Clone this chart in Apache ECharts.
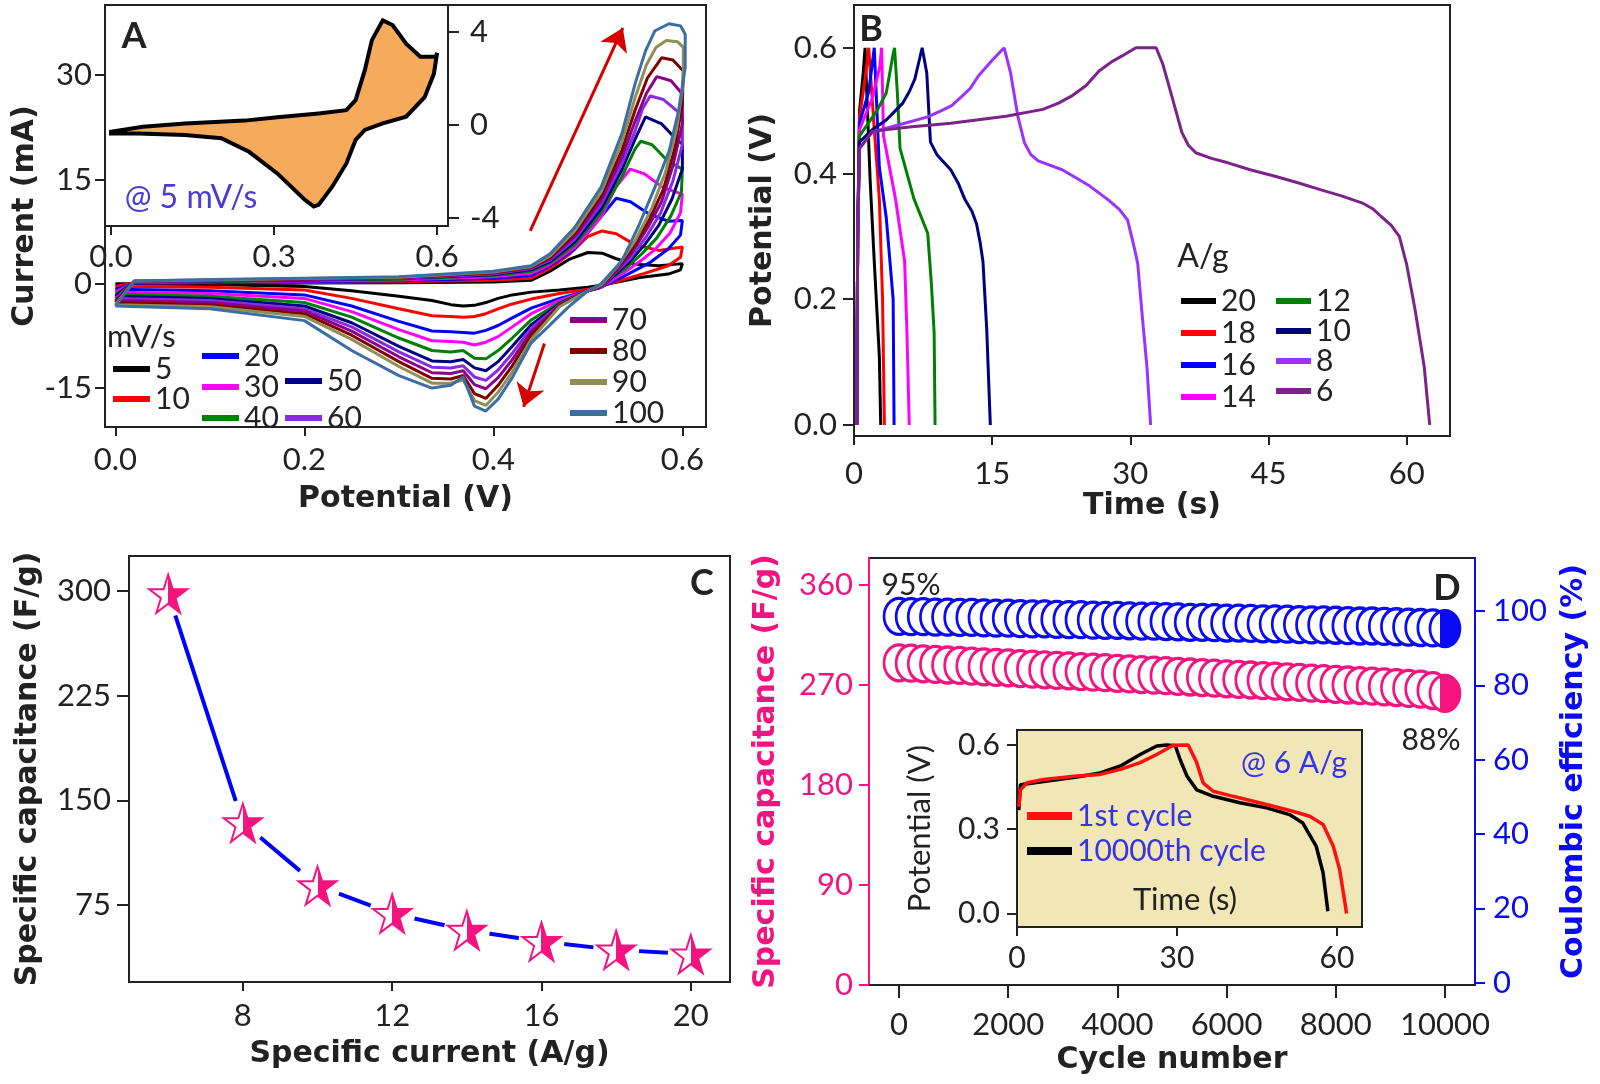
<!DOCTYPE html>
<html>
<head>
<meta charset="utf-8">
<script src="https://cdn.jsdelivr.net/npm/echarts@6/dist/echarts.min.js"></script>
<style>
  html, body { margin: 0; padding: 0; background: #fff; }
  #chart { width: 1600px; height: 1084px; }
</style>
</head>
<body>
<div id="chart"></div>
<script>
// ---------- A: cyclic voltammograms, [potential V, current mA] ----------
const scanRates = ['5', '10', '20', '30', '40', '50', '60', '70', '80', '90', '100'];
const cv5 = [[0,0],[0.02,0],[0.1,0.05],[0.2,0.1],[0.3,0.15],[0.4,0.25],[0.44,0.5],[0.46,1.8],[0.48,3.5],[0.5,4.5],[0.515,4.4],[0.53,3.6],[0.55,2.8],[0.575,2.6],[0.6,2.9],
  [0.598,2.0],[0.585,1.4],[0.555,0.9],[0.53,0.2],[0.514,-0.2],
  [0.5,-0.5],[0.47,-0.9],[0.44,-1.2],[0.42,-1.6],[0.405,-2.1],[0.392,-2.7],[0.38,-3.1],[0.368,-3.2],[0.355,-3.0],[0.335,-2.4],[0.3,-1.8],[0.25,-1.0],[0.2,-0.4],[0.1,-0.1],[0,0]];
const cv10 = [[0,-0.4],[0.02,0.1],[0.1,0.15],[0.2,0.2],[0.3,0.3],[0.4,0.5],[0.44,0.8],[0.46,2.2],[0.48,4.2],[0.5,6.8],[0.515,7.6],[0.53,7.2],[0.55,5.6],[0.575,4.8],[0.6,5.3],
  [0.598,3.8],[0.585,2.6],[0.56,1.5],[0.53,0.3],[0.514,-0.3],
  [0.5,-0.8],[0.47,-1.4],[0.44,-2.2],[0.42,-2.9],[0.405,-3.6],[0.392,-4.3],[0.38,-4.7],[0.368,-4.8],[0.355,-4.7],[0.335,-4.6],[0.3,-3.6],[0.25,-2.1],[0.2,-0.9],[0.1,-0.5],[0,-0.4]];
const cv20 = [[0,-0.8],[0.02,0.1],[0.1,0.2],[0.2,0.3],[0.3,0.45],[0.4,0.8],[0.44,1.2],[0.46,2.6],[0.486,5.0],[0.51,9.0],[0.53,12.3],[0.545,11.8],[0.565,10.0],[0.585,9.0],[0.6,9.1],
  [0.598,7.0],[0.585,5.0],[0.565,3.0],[0.54,1.2],[0.514,-0.5],
  [0.5,-1.0],[0.47,-2.1],[0.44,-3.5],[0.42,-4.9],[0.405,-6.0],[0.392,-6.7],[0.38,-7.1],[0.368,-7.0],[0.355,-6.9],[0.335,-6.8],[0.3,-5.4],[0.25,-3.2],[0.2,-1.6],[0.1,-1.0],[0,-0.8]];
const cv30 = [[0,-1.2],[0.02,0.2],[0.1,0.3],[0.2,0.4],[0.3,0.55],[0.4,1.0],[0.44,1.5],[0.46,2.8],[0.486,5.2],[0.514,9.6],[0.53,14.0],[0.545,16.5],[0.56,15.8],[0.58,13.8],[0.6,12.9],
  [0.598,10.2],[0.587,7.3],[0.57,4.8],[0.555,3.2],[0.538,1.6],[0.514,-0.5],
  [0.5,-1.0],[0.47,-2.4],[0.44,-4.3],[0.42,-6.2],[0.405,-7.6],[0.392,-8.4],[0.38,-8.8],[0.368,-8.4],[0.355,-8.3],[0.335,-8.2],[0.3,-6.6],[0.25,-4.0],[0.2,-2.1],[0.1,-1.4],[0,-1.2]];
const cv40 = [[0,-1.5],[0.02,0.2],[0.1,0.3],[0.2,0.5],[0.3,0.65],[0.4,1.2],[0.44,1.8],[0.46,3.0],[0.486,5.6],[0.514,10.2],[0.536,15.4],[0.55,19.4],[0.556,20.5],[0.568,20.0],[0.585,17.6],[0.6,16.5],
  [0.599,13.2],[0.588,9.8],[0.573,6.6],[0.557,4.3],[0.54,2.2],[0.525,0.8],[0.514,-0.5],
  [0.5,-1.0],[0.47,-2.7],[0.44,-5.2],[0.42,-7.8],[0.405,-9.6],[0.392,-10.8],[0.38,-10.7],[0.368,-9.6],[0.355,-9.8],[0.335,-9.6],[0.3,-7.8],[0.25,-4.8],[0.2,-2.7],[0.1,-1.8],[0,-1.5]];
const cv50 = [[0,-1.8],[0.02,0.3],[0.1,0.4],[0.2,0.55],[0.3,0.75],[0.4,1.3],[0.44,2.0],[0.46,3.2],[0.486,6.0],[0.514,10.8],[0.536,16.4],[0.55,20.8],[0.561,24.0],[0.578,23.0],[0.592,21.0],[0.6,20.1],
  [0.6,16.5],[0.589,12.2],[0.575,8.4],[0.56,5.6],[0.543,3.0],[0.527,1.1],[0.514,-0.5],
  [0.5,-1.0],[0.47,-2.9],[0.44,-5.9],[0.42,-9.0],[0.405,-11.2],[0.392,-12.5],[0.38,-12.1],[0.368,-10.9],[0.355,-11.2],[0.335,-11.1],[0.3,-9.0],[0.25,-5.6],[0.2,-3.2],[0.1,-2.1],[0,-1.8]];
const cv60 = [[0,-2.1],[0.02,0.3],[0.1,0.45],[0.2,0.6],[0.3,0.8],[0.4,1.4],[0.44,2.2],[0.46,3.4],[0.486,6.4],[0.514,11.4],[0.536,17.3],[0.55,22.0],[0.558,25.2],[0.566,27.0],[0.58,26.5],[0.595,24.8],[0.6,23.9],
  [0.6,20.0],[0.59,14.8],[0.577,10.2],[0.562,6.8],[0.545,3.7],[0.528,1.4],[0.514,-0.5],
  [0.5,-1.0],[0.47,-3.0],[0.44,-6.4],[0.42,-10.0],[0.405,-12.4],[0.392,-13.9],[0.38,-13.4],[0.368,-11.8],[0.355,-12.1],[0.335,-12.0],[0.3,-9.8],[0.25,-6.2],[0.2,-3.6],[0.1,-2.4],[0,-2.1]];
const cv70 = [[0,-2.4],[0.02,0.3],[0.1,0.5],[0.2,0.65],[0.3,0.85],[0.4,1.5],[0.44,2.3],[0.46,3.6],[0.486,6.8],[0.514,12.0],[0.536,18.2],[0.55,23.4],[0.562,27.4],[0.573,29.8],[0.588,29.2],[0.6,27.3],
  [0.6,23.0],[0.59,17.0],[0.578,11.8],[0.563,8.0],[0.546,4.4],[0.53,1.8],[0.514,-0.4],
  [0.5,-1.0],[0.47,-3.1],[0.44,-6.9],[0.42,-10.9],[0.405,-13.5],[0.392,-15.1],[0.38,-14.5],[0.368,-12.5],[0.355,-12.9],[0.335,-12.8],[0.3,-10.5],[0.25,-6.8],[0.2,-3.9],[0.1,-2.7],[0,-2.4]];
const cv80 = [[0,-2.7],[0.02,0.4],[0.1,0.5],[0.2,0.7],[0.3,0.9],[0.4,1.6],[0.44,2.4],[0.46,3.8],[0.486,7.2],[0.514,12.6],[0.536,19.2],[0.55,25.0],[0.563,29.6],[0.578,32.5],[0.59,32.2],[0.601,30.6],
  [0.6,26.0],[0.592,19.5],[0.58,13.6],[0.565,9.2],[0.548,5.2],[0.53,2.1],[0.514,-0.3],
  [0.5,-1.0],[0.47,-3.2],[0.44,-7.4],[0.42,-11.8],[0.405,-14.6],[0.392,-16.5],[0.38,-15.8],[0.368,-13.2],[0.355,-13.7],[0.335,-13.6],[0.3,-11.2],[0.25,-7.4],[0.2,-4.3],[0.1,-3.0],[0,-2.7]];
const cv90 = [[0,-3.0],[0.02,0.4],[0.1,0.55],[0.2,0.75],[0.3,0.95],[0.4,1.7],[0.44,2.5],[0.46,4.0],[0.486,7.6],[0.514,13.2],[0.536,20.4],[0.55,26.8],[0.562,31.5],[0.572,34.0],[0.583,35.0],[0.595,34.8],[0.601,34.0],
  [0.601,29.0],[0.594,22.3],[0.582,16.0],[0.568,11.0],[0.55,6.2],[0.532,2.6],[0.514,-0.2],
  [0.5,-1.0],[0.47,-3.3],[0.44,-8.0],[0.42,-12.7],[0.405,-15.6],[0.392,-17.5],[0.38,-16.8],[0.368,-13.8],[0.355,-14.3],[0.335,-14.3],[0.3,-11.9],[0.25,-8.0],[0.2,-4.7],[0.1,-3.3],[0,-3.0]];
const cv100 = [[0,-3.2],[0.02,0.4],[0.1,0.6],[0.2,0.8],[0.3,1.0],[0.4,1.8],[0.44,2.6],[0.46,4.3],[0.486,8.1],[0.514,13.9],[0.536,21.6],[0.55,28.8],[0.561,33.5],[0.571,36.4],[0.586,37.4],[0.598,37.1],[0.603,35.9],
  [0.603,31.1],[0.596,24.9],[0.586,19.1],[0.571,13.9],[0.553,8.1],[0.536,3.3],[0.514,0.0],
  [0.5,-1.0],[0.479,-3.4],[0.457,-6.3],[0.44,-8.5],[0.42,-13.5],[0.405,-16.6],[0.392,-18.3],[0.38,-17.6],[0.368,-13.4],[0.355,-14.6],[0.335,-15.0],[0.3,-13.2],[0.25,-9.6],[0.2,-5.3],[0.1,-3.6],[0,-3.2]];
const cvCurves = [cv5, cv10, cv20, cv30, cv40, cv50, cv60, cv70, cv80, cv90, cv100];

// inset: 5 mV/s loop
const cvInset = [[0,-0.29],[0.059,-0.07],[0.136,0.07],[0.246,0.19],[0.306,0.33],[0.382,0.5],[0.433,0.64],[0.45,1.07],[0.467,2.36],[0.48,3.65],[0.5,4.5],[0.518,4.3],[0.543,3.5],[0.569,2.94],[0.598,2.94],[0.6,3.1],
  [0.594,2.2],[0.577,1.2],[0.543,0.36],[0.5,0.07],[0.467,-0.21],[0.45,-0.64],[0.433,-1.65],[0.407,-2.65],[0.382,-3.43],[0.373,-3.5],[0.356,-3.2],[0.306,-2.08],[0.254,-1.15],[0.203,-0.57],[0.136,-0.43],[0.05,-0.36],[0,-0.36]];

// ---------- B: charge/discharge, [time s, potential V] ----------
const gcdRates = ['20', '18', '16', '14', '12', '10', '8', '6'];
const gcd20 = [[0.3,0],[0.4,0.3],[0.6,0.5],[1.0,0.56],[1.2,0.6],[1.75,0.39],[2.2,0.26],[2.75,0.11],[2.9,0]];
const gcd18 = [[0.3,0],[0.4,0.3],[0.6,0.49],[1.2,0.55],[1.6,0.6],[2.2,0.47],[2.75,0.36],[3.1,0.2],[3.3,0]];
const gcd16 = [[0.3,0],[0.4,0.3],[0.6,0.48],[1.6,0.53],[2.2,0.6],[2.75,0.41],[3.5,0.33],[4.25,0.2],[4.35,0]];
const gcd14 = [[0.3,0],[0.4,0.3],[0.6,0.47],[2.0,0.52],[2.8,0.57],[3.0,0.6],[3.2,0.46],[4.5,0.36],[5.5,0.26],[5.75,0.146],[6.0,0]];
const gcd12 = [[0.3,0],[0.4,0.3],[0.6,0.46],[2.5,0.5],[3.5,0.528],[4.25,0.59],[4.4,0.6],[4.7,0.53],[5.0,0.44],[6.5,0.36],[8.0,0.305],[8.4,0.225],[8.7,0.146],[8.8,0]];
const gcd10 = [[0.3,0],[0.4,0.3],[0.6,0.45],[2,0.47],[3.5,0.485],[4.5,0.5],[5.3,0.512],[6,0.53],[6.6,0.55],[7,0.575],[7.4,0.6],[7.9,0.56],[8.3,0.45],[9,0.43],[10.5,0.406],[11.3,0.385],[12,0.36],[12.8,0.34],[13.3,0.32],[13.7,0.29],[14,0.26],[14.4,0.155],[14.8,0]];
const gcd8 = [[0.3,0],[0.4,0.3],[0.6,0.44],[2,0.466],[5.5,0.48],[8,0.49],[9.5,0.5],[10.6,0.508],[11.5,0.52],[12.6,0.535],[13.5,0.555],[15,0.58],[16.3,0.6],[17,0.56],[17.8,0.49],[18.5,0.449],[19.2,0.43],[20,0.42],[22.6,0.406],[25.6,0.38],[27.6,0.358],[28.8,0.343],[29.7,0.326],[30.3,0.29],[30.8,0.257],[31.3,0.172],[31.8,0.093],[32.2,0]];
const gcd6 = [[0.3,0],[0.4,0.3],[0.6,0.44],[2,0.467],[6,0.474],[10.5,0.48],[16.5,0.491],[20.5,0.502],[22.2,0.512],[23.6,0.523],[25.2,0.54],[26.6,0.563],[28,0.578],[29.1,0.587],[30.6,0.6],[32.8,0.6],[33.5,0.575],[34.1,0.544],[35.6,0.465],[36.3,0.445],[37.1,0.433],[38.8,0.424],[40.6,0.417],[43,0.406],[45.6,0.396],[48,0.386],[50.7,0.374],[53,0.364],[55.2,0.353],[56.3,0.344],[57.2,0.332],[58.3,0.318],[59.2,0.30],[60,0.255],[60.9,0.184],[61.9,0.093],[62.5,0]];
const gcdCurves = [gcd20, gcd18, gcd16, gcd14, gcd12, gcd10, gcd8, gcd6];

// ---------- C: rate capability ----------
const specCurrent = [6, 8, 10, 12, 14, 16, 18, 20];
const specCap = [298, 134, 89, 69, 57, 49, 43, 40];

// ---------- D: cycling ----------
const cycles = [0,222,444,667,889,1111,1333,1556,1778,2000,2222,2444,2667,2889,3111,3333,3556,3778,4000,4222,4444,4667,4889,5111,5333,5556,5778,6000,6222,6444,6667,6889,7111,7333,7556,7778,8000,8222,8444,8667,8889,9111,9333,9556,9778,10000];
const capRetention = [290.0,289.6,289.1,288.5,288.0,287.6,287.0,286.4,285.9,285.5,284.8,284.3,283.7,283.2,282.8,282.1,281.6,281.1,280.5,280.0,279.4,278.9,278.4,277.8,277.2,276.7,276.1,275.6,275.1,274.5,274.0,273.4,272.9,272.3,271.7,271.2,270.6,270.0,269.5,268.9,268.3,267.7,267.0,266.3,265.0,262.5];
const coulEff = [98.6,98.5,98.5,98.4,98.4,98.3,98.3,98.2,98.1,98.1,98.0,97.9,97.9,97.8,97.7,97.7,97.6,97.5,97.5,97.4,97.3,97.3,97.2,97.1,97.0,97.0,96.9,96.8,96.8,96.7,96.6,96.6,96.5,96.4,96.3,96.3,96.2,96.1,96.0,96.0,95.9,95.8,95.7,95.6,95.5,95.3];
const firstCycle = [[0.33,0.38],[0.64,0.44],[1.9,0.465],[5,0.477],[11.2,0.489],[15.6,0.495],[19.4,0.513],[23.1,0.537],[26.2,0.566],[29.3,0.599],[32.1,0.6],[33.7,0.537],[34.9,0.465],[36.8,0.435],[40.5,0.417],[46.8,0.388],[51.7,0.364],[54.9,0.346],[57.4,0.317],[59.3,0.24],[60.5,0.157],[61.5,0.038],[61.8,0]];
const lastCycle = [[0.33,0.368],[0.64,0.458],[5,0.47],[11.2,0.486],[15.6,0.5],[19.4,0.525],[23.1,0.566],[26.2,0.596],[28.1,0.6],[29.7,0.597],[30.6,0.547],[31.9,0.488],[33.7,0.44],[36.8,0.417],[41.8,0.394],[46.8,0.376],[51.1,0.352],[53.6,0.322],[56.1,0.24],[57.4,0.145],[58.3,0.008]];

// ---------- styles ----------
const cvColors = ['#000000', '#ff0000', '#0000ff', '#ff00ff', '#008000', '#000080', '#8a2be2', '#8b008b', '#800000', '#8f8f55', '#3a6ea5'];
const gcdColors = ['#000000', '#ff0000', '#0000ff', '#ff00ff', '#008000', '#000080', '#9933ff', '#7b2388'];
const PINK = '#f5147f';
const BLUE = '#0a0af5';
const INK = '#222';

function halfFill(col, stop) {
  return new echarts.graphic.LinearGradient(0, 0, 1, 0, [
    { offset: 0, color: '#fff' }, { offset: stop, color: '#fff' },
    { offset: stop, color: col }, { offset: 1, color: col }
  ]);
}

function axis(o) {
  const c = o.color || INK;
  return {
    type: 'value', gridIndex: o.grid, min: o.min, max: o.max, position: o.position,
    name: o.name || '', nameLocation: 'middle', nameGap: o.nameGap, nameRotate: o.nameRotate,
    nameTextStyle: Object.assign({ fontFamily: 'DejaVu Sans', fontWeight: 'bold', fontSize: 30, color: o.nameColor || INK }, o.nameStyle || {}),
    axisLine: { show: true, onZero: false, lineStyle: { color: c, width: 2 } },
    axisTick: { show: true, inside: false, length: o.tick || 9, customValues: o.ticks, lineStyle: { color: c, width: 2 } },
    axisLabel: { show: true, customValues: o.ticks, margin: o.margin, fontFamily: 'Lato', fontSize: o.fontSize || 31, color: o.labelColor || INK, formatter: o.fmt || (v => String(v)) },
    splitLine: { show: false }
  };
}
const f1 = v => v.toFixed(1);
const box = { show: true, borderColor: INK, borderWidth: 2 };

const series = [];
cvCurves.forEach((d, i) => {
  series.push({
    type: 'line', name: 'a' + scanRates[i], xAxisIndex: 0, yAxisIndex: 0, data: d,
    showSymbol: false, color: cvColors[i], lineStyle: { width: 3 }
  });
});
// arrows in panel A
series[0].markLine = {
  silent: true, symbol: ['none', 'arrow'], symbolSize: 22, label: { show: false },
  lineStyle: { color: '#d40000', width: 3, type: 'solid' },
  data: [
    [{ coord: [0.439, 7.6] }, { coord: [0.537, 36.8] }],
    [{ coord: [0.454, -8.6] }, { coord: [0.432, -17.7] }]
  ]
};
series.push({
  type: 'custom', xAxisIndex: 1, yAxisIndex: 1, data: cvInset, clip: true,
  renderItem: (params, api) => {
    if (params.dataIndex !== 0) return;
    return {
      type: 'polygon',
      shape: { points: cvInset.map(p => api.coord(p)) },
      style: { fill: '#f6aa5c', stroke: '#000', lineWidth: 4 }
    };
  }
});
gcdCurves.forEach((d, i) => {
  series.push({
    type: 'line', name: 'b' + gcdRates[i], xAxisIndex: 2, yAxisIndex: 2, data: d,
    showSymbol: false, color: gcdColors[i], lineStyle: { width: 3 }
  });
});
const rateData = specCurrent.map((x, i) => [x, specCap[i]]);
series.push({
  type: 'line', xAxisIndex: 3, yAxisIndex: 3, data: rateData, showSymbol: false,
  color: '#0000ff', lineStyle: { width: 4 }, z: 2
});
series.push({
  type: 'scatter', xAxisIndex: 3, yAxisIndex: 3, data: rateData, symbol: 'circle', symbolSize: 46,
  itemStyle: { color: '#fff', opacity: 1 }, z: 3, silent: true
});
series.push({
  type: 'scatter', xAxisIndex: 3, yAxisIndex: 3, data: rateData, z: 4,
  symbol: 'path://M50,2 L61.8,37.6 L99,37.6 L68.9,59.5 L80.4,95.1 L50,73.1 L19.6,95.1 L31.1,59.5 L1,37.6 L38.2,37.6 Z',
  symbolSize: 38, itemStyle: { color: halfFill(PINK, 0.5), borderColor: PINK, borderWidth: 2, opacity: 1 }
});
function cycleData(vals, col) {
  return cycles.map((c, i) => i === cycles.length - 1
    ? { value: [c, vals[i]], itemStyle: { color: halfFill(col, 0.35) } }
    : [c, vals[i]]);
}
series.push({
  type: 'scatter', xAxisIndex: 4, yAxisIndex: 4, data: cycleData(capRetention, PINK),
  symbol: 'circle', symbolSize: [30, 36], itemStyle: { color: '#fff', borderColor: PINK, borderWidth: 3, opacity: 1 }
});
series.push({
  type: 'scatter', xAxisIndex: 4, yAxisIndex: 5, data: cycleData(coulEff, BLUE),
  symbol: 'circle', symbolSize: [30, 36], itemStyle: { color: '#fff', borderColor: BLUE, borderWidth: 3, opacity: 1 }
});
series.push({
  type: 'line', name: '10000th cycle', xAxisIndex: 5, yAxisIndex: 6, data: lastCycle,
  showSymbol: false, color: '#000', lineStyle: { width: 3.5 }
});
series.push({
  type: 'line', name: '1st cycle', xAxisIndex: 5, yAxisIndex: 6, data: firstCycle,
  showSymbol: false, color: '#ff1010', lineStyle: { width: 3.5 }
});

function legend(names, left, top, lh, gap, extra) {
  return Object.assign({
    data: names, left: left, top: top, orient: 'vertical', padding: 0, itemGap: gap,
    icon: 'rect', itemWidth: 37, itemHeight: 6, selectedMode: false,
    formatter: n => n.replace(/^[ab]/, ''),
    textStyle: { fontFamily: 'Lato', fontSize: 30, color: INK, lineHeight: lh }
  }, extra || {});
}

const txt = (x, y, text, font, fill, align) => ({
  type: 'text', x: x, y: y, silent: true,
  style: { text: text, font: font, fill: fill || INK, align: align || 'center', verticalAlign: 'middle' }
});

const option = {
  animation: false,
  backgroundColor: '#fff',
  grid: [
    Object.assign({ left: 105, top: 5, width: 601, height: 422 }, box),
    Object.assign({ left: 105, top: 5, width: 343, height: 221, backgroundColor: '#fff' }, box),
    Object.assign({ left: 854, top: 5, width: 596, height: 431 }, box),
    Object.assign({ left: 129, top: 556, width: 601, height: 426 }, box),
    Object.assign({ left: 869, top: 558, width: 606, height: 427 }, box),
    Object.assign({ left: 1017, top: 730, width: 345, height: 197, backgroundColor: '#f1e6b6' }, box)
  ],
  xAxis: [
    axis({ grid: 0, min: -0.011, max: 0.625, ticks: [0, 0.2, 0.4, 0.6], fmt: f1, margin: 17, name: 'Potential (V)', nameGap: 57 }),
    axis({ grid: 1, min: -0.011, max: 0.62, ticks: [0, 0.3, 0.6], fmt: f1, margin: 15 }),
    axis({ grid: 2, min: 0, max: 64.7, ticks: [0, 15, 30, 45, 60], margin: 22, name: 'Time (s)', nameGap: 55 }),
    axis({ grid: 3, min: 4.95, max: 21.05, ticks: [8, 12, 16, 20], margin: 18, name: 'Specific current (A/g)', nameGap: 57 }),
    axis({ grid: 4, min: -550, max: 10550, ticks: [0, 2000, 4000, 6000, 8000, 10000], margin: 24, tick: 13, name: 'Cycle number', nameGap: 60 }),
    axis({ grid: 5, min: 0, max: 64.7, ticks: [0, 30, 60], margin: 16, fontSize: 30 })
  ],
  yAxis: [
    axis({ grid: 0, min: -20.6, max: 40.1, ticks: [-15, 0, 15, 30], margin: 13, tick: 10, name: 'Current (mA)', nameRotate: 90, nameGap: 64 }),
    axis({ grid: 1, position: 'right', min: -4.34, max: 5.16, ticks: [-4, 0, 4], margin: 22, tick: 11 }),
    axis({ grid: 2, min: -0.0175, max: 0.668, ticks: [0, 0.2, 0.4, 0.6], fmt: f1, margin: 17, tick: 11, name: 'Potential (V)', nameRotate: 90, nameGap: 76 }),
    axis({ grid: 3, min: 20, max: 325, ticks: [75, 150, 225, 300], margin: 18, tick: 12, name: 'Specific capacitance (F/g)', nameRotate: 90, nameGap: 86 }),
    axis({ grid: 4, min: 0, max: 384.3, ticks: [0, 90, 180, 270, 360], color: PINK, labelColor: PINK, margin: 16, tick: 10,
      name: 'Specific capacitance (F/g)', nameColor: PINK, nameRotate: 90, nameGap: 88 }),
    axis({ grid: 4, position: 'right', min: -0.6, max: 114.3, ticks: [0, 20, 40, 60, 80, 100], color: BLUE, labelColor: BLUE, margin: 18, tick: 10,
      name: 'Coulombic efficiency (%)', nameColor: BLUE, nameRotate: 90, nameGap: 84 }),
    axis({ grid: 5, min: -0.048, max: 0.653, ticks: [0, 0.3, 0.6], fmt: f1, margin: 17, fontSize: 30, tick: 10,
      name: 'Potential (V)', nameRotate: 90, nameGap: 82, nameStyle: { fontFamily: 'Lato', fontWeight: 'normal', fontSize: 31 } })
  ],
  legend: [
    legend(['a5', 'a10'], 113, 354, 28, 0),
    legend(['a20', 'a30', 'a40'], 202, 341, 25, 1),
    legend(['a50', 'a60'], 285, 366, 28, 7),
    legend(['a70', 'a80', 'a90', 'a100'], 570, 305, 27, 1),
    legend(['b20', 'b18', 'b16', 'b14'], 1181, 285, 32, 0, { itemWidth: 35 }),
    legend(['b12', 'b10', 'b8', 'b6'], 1276, 286, 29, 0, { itemWidth: 35 }),
    legend(['1st cycle', '10000th cycle'], 1027, 801, 30, 5, { itemWidth: 45, itemHeight: 8,
      textStyle: { fontFamily: 'Lato', fontSize: 30, color: '#3434e6', lineHeight: 30 } })
  ],
  graphic: [
    txt(134, 36, 'A', 'bold 36px Lato'),
    txt(871, 29, 'B', 'bold 36px Lato'),
    txt(702, 583, 'C', 'bold 36px Lato'),
    txt(1447, 588, 'D', 'bold 36px Lato'),
    txt(107, 337, 'mV/s', '31px Lato', INK, 'left'),
    txt(191, 198, '@ 5 mV/s', '32px Lato', '#4a3ad8'),
    txt(1203, 257, 'A/g', '32px Lato'),
    txt(911, 585, '95%', '30px Lato'),
    txt(1431, 740, '88%', '30px Lato'),
    txt(1294, 763, '@ 6 A/g', '30px Lato', '#3434e6'),
    txt(1185, 900, 'Time (s)', '31px Lato')
  ],
  series: series
};

const chart = echarts.init(document.getElementById('chart'), null, { renderer: 'canvas' });
chart.setOption(option);
</script>
</body>
</html>
